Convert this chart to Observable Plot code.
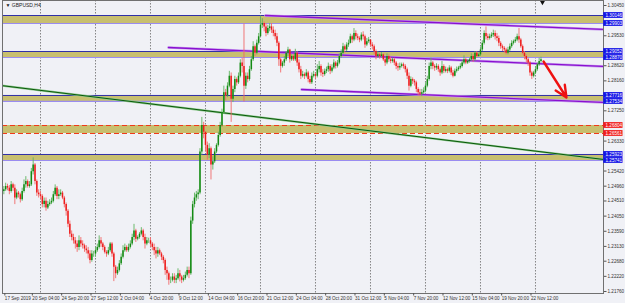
<!DOCTYPE html>
<html><head><meta charset="utf-8">
<script src="https://cdn.jsdelivr.net/npm/d3@7"></script>
<script src="https://cdn.jsdelivr.net/npm/@observablehq/plot@0.6"></script>
<style>
html,body{margin:0;padding:0;background:#f0f1f6;}
#chart{width:625px;height:303px;overflow:hidden;}
</style></head><body><div id="chart"></div>
<script>
// ---------- data ----------
const symbolTitle = "GBPUSD,H4";
const firstBar = -20;          // bar index of first candle (bar 0 = Mon 23 Sep 00:00)
const firstOpen = 1.2480;
const closes = [
 1.2485,1.2495,
 1.2490,1.2480,1.2500,1.2490,1.2460,1.2475,
 1.2470,1.2455,1.2480,1.2500,1.2510,1.2495,
 1.2500,1.2540,1.2560,1.2510,1.2475,1.2470,
 1.2465,1.2440,1.2450,1.2430,1.2440,1.2445,
 1.2450,1.2470,1.2490,1.2465,1.2470,1.2475,
 1.2460,1.2440,1.2420,1.2380,1.2350,1.2340,
 1.2330,1.2320,1.2310,1.2330,1.2320,1.2315,
 1.2305,1.2300,1.2290,1.2270,1.2290,1.2290,
 1.2300,1.2310,1.2330,1.2320,1.2310,1.2295,
 1.2290,1.2300,1.2320,1.2290,1.2250,1.2230,
 1.2240,1.2260,1.2280,1.2300,1.2310,1.2300,
 1.2310,1.2320,1.2340,1.2360,1.2335,1.2340,
 1.2350,1.2360,1.2340,1.2320,1.2330,1.2330,
 1.2320,1.2310,1.2300,1.2290,1.2300,1.2290,
 1.2280,1.2270,1.2240,1.2230,1.2210,1.2210,
 1.2220,1.2210,1.2215,1.2230,1.2220,1.2210,
 1.2215,1.2225,1.2240,1.2230,1.2390,1.2440,
 1.2460,1.2470,1.2475,1.2600,1.2680,1.2660,
 1.2620,1.2590,1.2610,1.2560,1.2570,1.2600,
 1.2620,1.2650,1.2680,1.2720,1.2780,1.2770,
 1.2800,1.2830,1.2760,1.2790,1.2820,1.2810,
 1.2830,1.2870,1.2860,1.2800,1.2830,1.2820,
 1.2850,1.2880,1.2920,1.2900,1.2930,1.2950,
 1.2985,1.2990,1.2980,1.2960,1.2975,1.2980,
 1.2970,1.2960,1.2950,1.2930,1.2880,1.2860,
 1.2870,1.2880,1.2900,1.2910,1.2880,1.2890,
 1.2880,1.2900,1.2870,1.2850,1.2830,1.2835,
 1.2830,1.2840,1.2820,1.2810,1.2830,1.2835,
 1.2830,1.2850,1.2860,1.2840,1.2835,1.2845,
 1.2850,1.2860,1.2845,1.2855,1.2870,1.2860,
 1.2870,1.2890,1.2900,1.2920,1.2910,1.2925,
 1.2930,1.2950,1.2940,1.2960,1.2950,1.2945,
 1.2940,1.2955,1.2950,1.2925,1.2935,1.2940,
 1.2925,1.2920,1.2905,1.2890,1.2895,1.2890,
 1.2895,1.2880,1.2870,1.2890,1.2880,1.2875,
 1.2880,1.2870,1.2860,1.2855,1.2860,1.2865,
 1.2860,1.2850,1.2830,1.2800,1.2820,1.2815,
 1.2810,1.2790,1.2780,1.2775,1.2780,1.2785,
 1.2800,1.2820,1.2860,1.2870,1.2860,1.2855,
 1.2860,1.2850,1.2840,1.2860,1.2845,1.2850,
 1.2845,1.2855,1.2840,1.2830,1.2845,1.2850,
 1.2855,1.2860,1.2870,1.2880,1.2870,1.2875,
 1.2880,1.2890,1.2880,1.2900,1.2890,1.2895,
 1.2910,1.2930,1.2960,1.2950,1.2945,1.2950,
 1.2955,1.2960,1.2950,1.2945,1.2930,1.2920,
 1.2915,1.2910,1.2900,1.2910,1.2920,1.2930,
 1.2935,1.2940,1.2950,1.2940,1.2920,1.2900,
 1.2890,1.2880,1.2870,1.2840,1.2830,1.2840,
 1.2850,1.2865,1.2875,1.2880
];
const highs = [
 1.2495,1.2505,
 1.2502,1.2498,1.2510,1.2505,1.2500,1.2485,
 1.2480,1.2475,1.2490,1.2515,1.2525,1.2515,
 1.2510,1.2550,1.2582,1.2565,1.2515,1.2485,
 1.2480,1.2470,1.2460,1.2460,1.2450,1.2455,
 1.2460,1.2480,1.2500,1.2495,1.2485,1.2485,
 1.2480,1.2465,1.2445,1.2425,1.2390,1.2360,
 1.2350,1.2340,1.2330,1.2345,1.2340,1.2330,
 1.2320,1.2315,1.2310,1.2300,1.2300,1.2298,
 1.2310,1.2320,1.2345,1.2340,1.2325,1.2315,
 1.2300,1.2310,1.2325,1.2325,1.2295,1.2255,
 1.2250,1.2270,1.2290,1.2315,1.2320,1.2315,
 1.2320,1.2330,1.2350,1.2380,1.2365,1.2345,
 1.2355,1.2370,1.2365,1.2350,1.2340,1.2338,
 1.2340,1.2325,1.2320,1.2310,1.2310,1.2305,
 1.2295,1.2285,1.2275,1.2250,1.2235,1.2220,
 1.2230,1.2230,1.2225,1.2245,1.2240,1.2225,
 1.2225,1.2235,1.2250,1.2250,1.2402,1.2450,
 1.2475,1.2480,1.2485,1.2610,1.2705,1.2690,
 1.2640,1.2630,1.2625,1.2615,1.2585,1.2610,
 1.2625,1.2660,1.2690,1.2730,1.2800,1.2790,
 1.2810,1.2845,1.2840,1.2800,1.2830,1.2825,
 1.2840,1.2880,1.2885,1.2989,1.2840,1.2840,
 1.2860,1.2890,1.2935,1.2925,1.2940,1.2960,
 1.3013,1.3005,1.2995,1.2990,1.2985,1.2990,
 1.2990,1.2980,1.2970,1.2960,1.2935,1.2885,
 1.2875,1.2890,1.2905,1.2918,1.2912,1.2895,
 1.2895,1.2912,1.2905,1.2880,1.2860,1.2845,
 1.2840,1.2850,1.2845,1.2830,1.2840,1.2845,
 1.2840,1.2865,1.2875,1.2865,1.2850,1.2852,
 1.2858,1.2870,1.2865,1.2865,1.2880,1.2875,
 1.2878,1.2898,1.2910,1.2930,1.2925,1.2932,
 1.2940,1.2958,1.2955,1.2975,1.2968,1.2958,
 1.2950,1.2962,1.2965,1.2955,1.2945,1.2948,
 1.2940,1.2932,1.2925,1.2910,1.2905,1.2900,
 1.2902,1.2898,1.2885,1.2898,1.2895,1.2888,
 1.2885,1.2885,1.2875,1.2868,1.2870,1.2870,
 1.2870,1.2865,1.2855,1.2840,1.2828,1.2825,
 1.2820,1.2815,1.2795,1.2790,1.2790,1.2795,
 1.2810,1.2830,1.2870,1.2885,1.2875,1.2865,
 1.2868,1.2865,1.2855,1.2875,1.2865,1.2858,
 1.2855,1.2862,1.2860,1.2848,1.2852,1.2858,
 1.2860,1.2868,1.2878,1.2892,1.2885,1.2880,
 1.2885,1.2898,1.2895,1.2905,1.2905,1.2900,
 1.2918,1.2938,1.2968,1.2980,1.2958,1.2958,
 1.2962,1.2970,1.2968,1.2960,1.2952,1.2935,
 1.2925,1.2920,1.2915,1.2918,1.2928,1.2938,
 1.2940,1.2948,1.2958,1.2975,1.2945,1.2925,
 1.2905,1.2895,1.2885,1.2875,1.2845,1.2845,
 1.2858,1.2870,1.2885,1.2888
];
const lows = [
 1.2470,1.2480,
 1.2482,1.2470,1.2475,1.2480,1.2440,1.2455,
 1.2460,1.2445,1.2450,1.2475,1.2490,1.2490,
 1.2490,1.2495,1.2530,1.2500,1.2465,1.2460,
 1.2455,1.2430,1.2430,1.2420,1.2425,1.2435,
 1.2440,1.2445,1.2465,1.2455,1.2455,1.2465,
 1.2455,1.2430,1.2405,1.2370,1.2340,1.2330,
 1.2320,1.2305,1.2295,1.2300,1.2310,1.2305,
 1.2295,1.2290,1.2275,1.2260,1.2265,1.2280,
 1.2280,1.2295,1.2305,1.2310,1.2300,1.2290,
 1.2280,1.2285,1.2295,1.2280,1.2206,1.2215,
 1.2225,1.2235,1.2255,1.2275,1.2295,1.2295,
 1.2295,1.2305,1.2315,1.2330,1.2325,1.2330,
 1.2335,1.2345,1.2330,1.2305,1.2315,1.2322,
 1.2310,1.2300,1.2285,1.2275,1.2280,1.2285,
 1.2270,1.2260,1.2225,1.2210,1.2195,1.2200,
 1.2205,1.2200,1.2200,1.2210,1.2205,1.2200,
 1.2205,1.2210,1.2220,1.2215,1.2225,1.2380,
 1.2430,1.2450,1.2455,1.2470,1.2590,1.2640,
 1.2600,1.2575,1.2580,1.2515,1.2545,1.2565,
 1.2595,1.2615,1.2645,1.2675,1.2715,1.2755,
 1.2765,1.2795,1.2690,1.2750,1.2780,1.2800,
 1.2805,1.2825,1.2840,1.2752,1.2790,1.2810,
 1.2815,1.2845,1.2875,1.2890,1.2895,1.2925,
 1.2950,1.2975,1.2965,1.2950,1.2955,1.2965,
 1.2960,1.2950,1.2940,1.2920,1.2860,1.2840,
 1.2855,1.2860,1.2875,1.2890,1.2870,1.2875,
 1.2875,1.2875,1.2860,1.2840,1.2820,1.2825,
 1.2820,1.2825,1.2810,1.2805,1.2805,1.2825,
 1.2820,1.2825,1.2840,1.2830,1.2826,1.2830,
 1.2838,1.2842,1.2835,1.2840,1.2850,1.2852,
 1.2855,1.2865,1.2885,1.2895,1.2900,1.2905,
 1.2918,1.2928,1.2930,1.2935,1.2940,1.2938,
 1.2932,1.2935,1.2940,1.2915,1.2920,1.2930,
 1.2918,1.2910,1.2895,1.2880,1.2885,1.2882,
 1.2885,1.2875,1.2860,1.2865,1.2872,1.2868,
 1.2870,1.2862,1.2850,1.2845,1.2848,1.2855,
 1.2852,1.2840,1.2820,1.2785,1.2795,1.2805,
 1.2800,1.2780,1.2770,1.2768,1.2768,1.2775,
 1.2780,1.2795,1.2815,1.2850,1.2850,1.2845,
 1.2848,1.2842,1.2830,1.2835,1.2838,1.2840,
 1.2838,1.2840,1.2832,1.2825,1.2828,1.2840,
 1.2845,1.2850,1.2855,1.2865,1.2865,1.2866,
 1.2870,1.2875,1.2872,1.2875,1.2885,1.2888,
 1.2890,1.2905,1.2925,1.2940,1.2938,1.2940,
 1.2945,1.2948,1.2940,1.2935,1.2920,1.2912,
 1.2905,1.2900,1.2895,1.2895,1.2905,1.2915,
 1.2925,1.2930,1.2935,1.2930,1.2915,1.2895,
 1.2880,1.2870,1.2860,1.2830,1.2820,1.2825,
 1.2835,1.2845,1.2860,1.2870
];

// time axis labels (bar index -> label)
const xTickBars = [-20,-5,11,27,43,59,75,91,107,123,139,155,171,187,203,219,235,251,267];
const xTickLabels = ["17 Sep 2019","20 Sep 04:00","24 Sep 20:00","27 Sep 12:00","2 Oct 04:00","4 Oct 20:00","9 Oct 12:00","14 Oct 04:00","16 Oct 20:00","21 Oct 12:00","24 Oct 04:00","28 Oct 20:00","31 Oct 12:00","5 Nov 04:00","7 Nov 20:00","12 Nov 12:00","15 Nov 04:00","19 Nov 20:00","22 Nov 12:00"];
const weekGridBars = [0,30,60,90,120,150,180,210,240,270];
// price axis
const yTicks = [1.30450,1.29530,1.28620,1.28160,1.27250,1.26330,1.25420,1.24960,1.24510,1.24050,1.23590,1.23130,1.22680,1.22220,1.21760];
// horizontal zones (top / bottom prices)
const zoneTops    = [1.30146,1.29052,1.27716,1.25923];
const zoneBottoms = [1.29903,1.28870,1.27534,1.25741];
const redZoneTop = 1.26804, redZoneBottom = 1.26561;
// drawn trendlines: [bar, price] end points
const purpleUpper  = [[122.7,1.30146],[307.1,1.29721]];
const purpleMiddle = [[69.8,1.29174],[307.1,1.28597]];
const purpleLower  = [[142.4,1.27898],[307.1,1.27503]];
const greenLine    = [[-21.8,1.28020],[307.1,1.25772]];
const redArrow     = [[274.4,1.28749],[286.9,1.27655]];
const shiftMarkerBar = 273.8;

// ---------- build ----------
const xDomain = [-20.73, 307.1];
const yDomain = [1.21699, 1.30602];
const pxPerBar = 601 / (xDomain[1]-xDomain[0]);
const pricePerPx = (yDomain[1]-yDomain[0]) / 293;

const candles = closes.map((c,i)=>{
  const open = i===0 ? firstOpen : closes[i-1];
  return {bar:firstBar+i, open, close:c,
    high:Math.max(highs[i],open,c), low:Math.min(lows[i],open,c), up:c>=open};
});
const zones = zoneTops.map((t,i)=>({top:t,bottom:zoneBottoms[i]}));
const priceLabels = [
  ...zoneTops.map(v=>({v,fill:"#1414e6"})),
  ...zoneBottoms.map(v=>({v,fill:"#1414e6"})),
  {v:redZoneTop,fill:"#f01e1e"},{v:redZoneBottom,fill:"#f01e1e"}
];
const lblX1 = xDomain[1] + 0.2/pxPerBar;
const lblX2 = xDomain[1] + 19.5/pxPerBar;
const lblH = 2.9*pricePerPx;
const tickLabelMap = new Map(xTickBars.map((b,i)=>[b,xTickLabels[i]]));
const seg = p => p.map(([bar,price])=>({bar,price}));

const khaki = "#c8bf6f";
const chart = Plot.plot({
  width:625, height:303,
  marginTop:0, marginRight:22, marginBottom:10, marginLeft:2,
  x:{type:"linear", domain:xDomain, axis:null},
  y:{type:"linear", domain:yDomain, axis:null},
  color:{type:"identity"},
  style:{background:"#f0f1f6", fontFamily:"'Liberation Sans', Arial, sans-serif", fontSize:"4.6px", color:"#333"},
  marks:[
    Plot.ruleX(weekGridBars, {stroke:"#6a6a6a", strokeDasharray:"1.5,1.5", strokeWidth:0.8}),
    // zones
    Plot.rect(zones, {x1:()=>xDomain[0], x2:()=>xDomain[1], y1:"bottom", y2:"top", fill:khaki}),
    Plot.ruleY(zoneTops, {stroke:"#3030a8", strokeWidth:1}),
    Plot.ruleY(zoneBottoms, {stroke:"#9a8cf0", strokeWidth:1.2}),
    Plot.rect([{top:redZoneTop,bottom:redZoneBottom}], {x1:()=>xDomain[0], x2:()=>xDomain[1], y1:"bottom", y2:"top", fill:khaki}),
    Plot.ruleY([redZoneTop, redZoneBottom], {stroke:"#f03a1a", strokeWidth:1.2, strokeDasharray:"5,3"}),
    // trendlines
    Plot.line(seg(greenLine), {x:"bar", y:"price", stroke:"#8fc98f", strokeWidth:2.2, clip:true}),
    Plot.line(seg(greenLine), {x:"bar", y:"price", stroke:"#0a5a0a", strokeWidth:1, clip:true}),
    ...[purpleUpper,purpleMiddle,purpleLower].flatMap(l=>[
      Plot.line(seg(l), {x:"bar", y:"price", stroke:"#c9a0ef", strokeWidth:2.6, clip:true}),
      Plot.line(seg(l), {x:"bar", y:"price", stroke:"#8a10d0", strokeWidth:1.3, clip:true})
    ]),
    // candles
    Plot.ruleX(candles, {x:"bar", y1:"low", y2:"high", stroke:d=>d.up?"#5fb35f":"#f26a6a", strokeWidth:0.9}),
    Plot.ruleX(candles, {x:"bar", y1:"open", y2:"close", stroke:d=>d.up?"#138a13":"#ee1c1c", strokeWidth:1.5}),
    // arrow
    Plot.arrow([{x1:redArrow[0][0],y1:redArrow[0][1],x2:redArrow[1][0],y2:redArrow[1][1]}],
      {x1:"x1",y1:"y1",x2:"x2",y2:"y2", stroke:"#ee1111", strokeWidth:2.4, headLength:8, headAngle:50}),
    Plot.frame({stroke:"#707070", strokeWidth:1}),
    // axes
    Plot.axisY(yTicks, {anchor:"right", tickSize:2.5, tickPadding:1.5, tickFormat:d=>d.toFixed(5), stroke:"#555", fill:"#333"}),
    Plot.axisX(xTickBars, {anchor:"bottom", tickSize:2.5, tickPadding:0.5, tickFormat:d=>tickLabelMap.get(d), textAnchor:"start", dx:1, stroke:"#555", fill:"#333"}),
    // price labels on axis
    Plot.rect(priceLabels, {x1:()=>lblX1, x2:()=>lblX2, y1:d=>d.v-lblH, y2:d=>d.v+lblH, fill:"fill"}),
    Plot.text(priceLabels, {x:()=>lblX1 + 1.8/pxPerBar, y:"v", text:d=>d.v.toFixed(5), fill:"white", textAnchor:"start", fontSize:4.6}),
    // title + shift marker
    Plot.text([symbolTitle], {frameAnchor:"top-left", text:d=>"▼ "+d, dx:3, dy:3, textAnchor:"start", fill:"#222", fontSize:5}),
    Plot.dot([shiftMarkerBar], {x:d=>d, y:()=>yDomain[1]-2*pricePerPx, symbol:"triangle", rotate:180, r:1.8, fill:"#111"})
  ]
});
document.getElementById("chart").appendChild(chart);
</script></body></html>
